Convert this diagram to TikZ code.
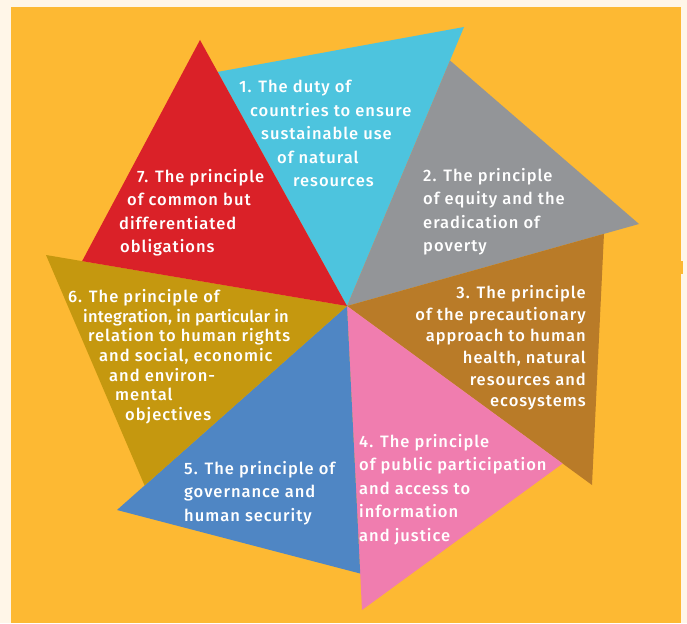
\documentclass[tikz,border=0pt]{standalone}
\usepackage{fontspec}
\IfFontExistsTF{Fira Sans Medium}{\setmainfont{Fira Sans Medium}[LetterSpace=6]}{\setmainfont{Fira Sans}[LetterSpace=6]}
\usetikzlibrary{calc}
\definecolor{hcream}{RGB}{255,246,232}
\definecolor{horange}{RGB}{253,185,51}
\definecolor{hcyan}{RGB}{77,196,222}
\definecolor{hgrey}{RGB}{147,149,152}
\definecolor{hbrown}{RGB}{185,123,40}
\definecolor{hpink}{RGB}{240,125,175}
\definecolor{hblue}{RGB}{79,134,196}
\definecolor{hgold}{RGB}{197,152,15}
\definecolor{hred}{RGB}{218,33,40}
\tikzset{
  ltext/.style={text=white,inner sep=0pt,align=left,font=\fontsize{16.5}{23.5}\selectfont},
  rtext/.style={ltext,align=right},
}
\newcommand{\petal}[3]{\fill[#1] (c) -- (#2) -- (#3) -- cycle;}

\begin{document}
\begin{tikzpicture}[x=1pt,y=-1pt]
    \pgfmathsetmacro{\fr}{0.88};
    \useasboundingbox (0,0) rectangle (687,623);
    \fill[hcream] (0,0) rectangle (687,623);
    \fill[horange] (11,7) rectangle (681,623);
    \fill[horange] (681,261) rectangle (683,274);

    \coordinate (c) at (347,306);
    % outer tips
    \coordinate (t1) at (464,27);
    \coordinate (t2) at (639,224);
    \coordinate (t3) at (592,485);
    \coordinate (t4) at (362,610);
    \coordinate (t5) at (117,510);
    \coordinate (t6) at (46,255);
    \coordinate (t7) at (200,40);
    % inner corners, on the edge of the neighbour
    \coordinate (p1) at ($(c)!\fr!(t7)$);
    \coordinate (p2) at ($(c)!\fr!(t1)$);
    \coordinate (p3) at ($(c)!\fr!(t2)$);
    \coordinate (p4) at ($(c)!\fr!(t3)$);
    \coordinate (p5) at ($(c)!\fr!(t4)$);
    \coordinate (p6) at ($(c)!\fr!(t5)$);
    \coordinate (p7) at ($(c)!\fr!(t6)$);

    \petal{hcyan}{p1}{t1};
    \petal{hgrey}{p2}{t2};
    \petal{hbrown}{p3}{t3};
    \petal{hpink}{p4}{t4};
    \petal{hblue}{p5}{t5};
    \petal{hgold}{p6}{t6};
    \petal{hred}{p7}{t7};

    \node[ltext,anchor=north west] (duty) at (239,80)
      {1. The duty of\\\hspace*{11pt}countries to ensure\\\hspace*{22pt}sustainable use\\\hspace*{38pt}of natural\\\hspace*{54pt}resources};
    \node[ltext,anchor=north west] (equity) at (423,168)
      {2. The principle\\of equity and the\\eradication of\\poverty};
    \node[rtext,anchor=north east,font=\fontsize{16.5}{21.7}\selectfont] (precaution) at (586,285)
      {3. The principle\\of the precautionary\\approach to human\\health, natural\\resources and\\ecosystems};
    \node[ltext,anchor=north west] (participation) at (359,434)
      {4. The principle\\of public participation\\and access to\\information\\and justice};
    \node[ltext,anchor=north west] (governance) at (184,461)
      {5. The principle of\\governance and\\human security};
    \node[ltext,anchor=north west,font=\fontsize{16.5}{19.7}\selectfont] (integration) at (68,289)
      {6. The principle of\\\hspace*{15pt}{\addfontfeature{LetterSpace=1}integration, in particular in}\\\hspace*{20pt}relation to human rights\\\hspace*{31pt}and social, economic\\\hspace*{41pt}and environ-\\\hspace*{47pt}mental\\\hspace*{57pt}objectives};
    \node[ltext,anchor=north west] (common) at (119,169)
      {\hspace*{18pt}7. The principle\\\hspace*{8pt}of common but\\differentiated\\\hspace*{1pt}obligations};
\end{tikzpicture}
\end{document}
